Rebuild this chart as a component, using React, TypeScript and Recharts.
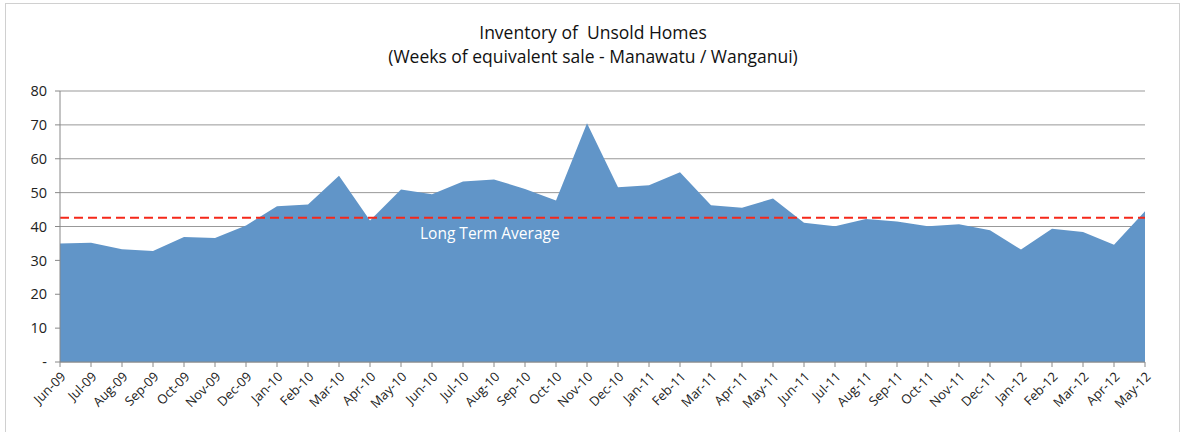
import React from "react";
import { AreaChart, Area, XAxis, YAxis, CartesianGrid, ReferenceLine } from "recharts";

const months = [
  "Jun-09", "Jul-09", "Aug-09", "Sep-09", "Oct-09", "Nov-09", "Dec-09",
  "Jan-10", "Feb-10", "Mar-10", "Apr-10", "May-10", "Jun-10", "Jul-10", "Aug-10", "Sep-10", "Oct-10", "Nov-10", "Dec-10",
  "Jan-11", "Feb-11", "Mar-11", "Apr-11", "May-11", "Jun-11", "Jul-11", "Aug-11", "Sep-11", "Oct-11", "Nov-11", "Dec-11",
  "Jan-12", "Feb-12", "Mar-12", "Apr-12", "May-12",
];

const weeks = [
  35.0, 35.2, 33.3, 32.8, 36.9, 36.6, 40.3,
  46.0, 46.5, 55.0, 41.8, 50.9, 49.5, 53.3, 53.9, 51.1, 47.7, 70.5, 51.6,
  52.2, 56.0, 46.3, 45.5, 48.3, 41.1, 40.1, 42.2, 41.5, 40.1, 40.7, 38.9,
  33.2, 39.3, 38.4, 34.6, 44.5,
];

const longTermAverage = 42.6;
const yTicks = [0, 10, 20, 30, 40, 50, 60, 70, 80];

const data = months.map((m, i) => ({ month: m, weeks: weeks[i] }));

const font = "'Open Sans', 'Liberation Sans', sans-serif";

const XTick = (props: any) => {
  const { x, y, payload } = props;
  const tx = x + 4;
  const ty = y + 6;
  return (
    <text
      x={tx}
      y={ty}
      transform={`rotate(-45 ${tx} ${ty})`}
      textAnchor="end"
      dominantBaseline="middle"
      fontSize={13}
      fontFamily={font}
      fill="#222"
    >
      {payload.value}
    </text>
  );
};

const AvgLabel = (props: any) => {
  const { viewBox } = props;
  return (
    <text x={viewBox.x + 360} y={viewBox.y + 21} fill="#ffffff" fontSize={15.5} fontFamily={font}>
      Long Term Average
    </text>
  );
};

export default function App() {
  return (
    <div style={{ position: "absolute", left: 0, top: 0, width: 1186, height: 432, background: "#fff", overflow: "hidden" }}>
      <div
        style={{
          position: "absolute",
          left: 5,
          top: 3,
          width: 1175,
          height: 440,
          border: "1px solid #d0d0d0",
          boxSizing: "border-box",
        }}
      />
      <div
        style={{
          position: "absolute",
          left: 0,
          top: 20,
          width: 1186,
          textAlign: "center",
          fontFamily: font,
          fontSize: 17.5,
          lineHeight: "24px",
          color: "#111",
        }}
      >
        <div>Inventory of&nbsp; Unsold Homes</div>
        <div>(Weeks of equivalent sale - Manawatu / Wanganui)</div>
      </div>
      <div style={{ position: "absolute", left: 0, top: 0 }}>
        <AreaChart width={1186} height={432} data={data} margin={{ top: 91, right: 41, bottom: 0, left: 0 }}>
          <CartesianGrid vertical={false} stroke="#999" strokeWidth={1} />
          <XAxis
            dataKey="month"
            interval={0}
            height={70}
            tick={<XTick />}
            tickSize={5}
            stroke="#888"
            tickLine={{ stroke: "#888" }}
          />
          <YAxis
            domain={[0, 80]}
            ticks={yTicks}
            width={60}
            interval={0}
            tickSize={5}
            tickMargin={8}
            tickFormatter={(v: number) => (v === 0 ? "-" : String(v))}
            tick={{ fontSize: 14.5, fontFamily: font, fill: "#222" }}
            stroke="#888"
            tickLine={{ stroke: "#888" }}
          />
          <Area
            type="linear"
            dataKey="weeks"
            stroke="none"
            fill="#6195c8"
            fillOpacity={1}
            isAnimationActive={false}
          />
          <ReferenceLine
            y={longTermAverage}
            stroke="#f5281a"
            strokeWidth={2}
            strokeDasharray="9 5"
            label={<AvgLabel />}
          />
        </AreaChart>
      </div>
    </div>
  );
}
